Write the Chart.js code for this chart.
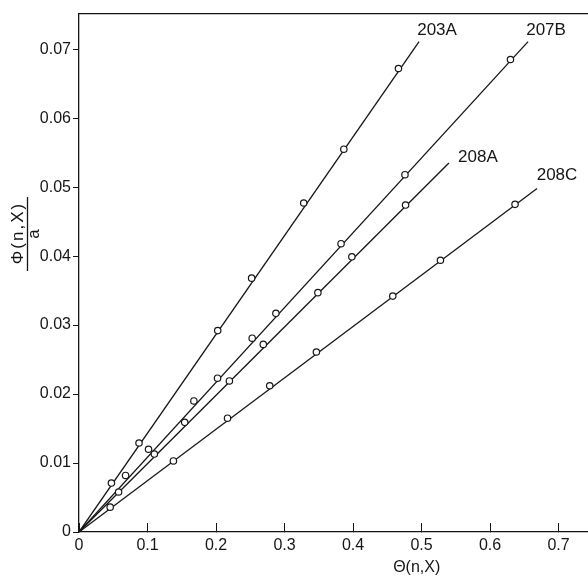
<!DOCTYPE html>
<html><head><meta charset="utf-8">
<script src="https://cdn.jsdelivr.net/npm/chart.js@4.4.1/dist/chart.umd.min.js"></script>
<style>html,body{margin:0;padding:0;background:#fff;overflow:hidden}#wrap{width:588px;height:578px;position:relative}</style>
</head><body><div id="wrap"><canvas id="c" width="588" height="578"></canvas></div>
<script>
// ---- data ----
const seriesNames = ['203A', '207B', '208A', '208C'];
const x203A = [0.0473, 0.0876, 0.2025, 0.2520, 0.3280, 0.3866, 0.4663];
const y203A = [0.0071, 0.0129, 0.0292, 0.0368, 0.0477, 0.0555, 0.0672];
const x207B = [0.0680, 0.1015, 0.1677, 0.2022, 0.2528, 0.2874, 0.3825, 0.4758, 0.6298];
const y207B = [0.0082, 0.0120, 0.0190, 0.0223, 0.0281, 0.0317, 0.0418, 0.0518, 0.0685];
const x208A = [0.0578, 0.1100, 0.1543, 0.2195, 0.2690, 0.3487, 0.3983, 0.4767];
const y208A = [0.0058, 0.0113, 0.0159, 0.0219, 0.0272, 0.0347, 0.0399, 0.0474];
const x208C = [0.0455, 0.1378, 0.2168, 0.2784, 0.3465, 0.4580, 0.5276, 0.6365];
const y208C = [0.0036, 0.0103, 0.0165, 0.0212, 0.0261, 0.0342, 0.0394, 0.0475];
// fitted straight lines: from the origin to these end points
const lineEndX = [0.4964, 0.6555, 0.5400, 0.6686];
const lineEndY = [0.0711, 0.0711, 0.0535, 0.0498];
const xTickValues = [0, 0.1, 0.2, 0.3, 0.4, 0.5, 0.6, 0.7];
const xTickLabels = ['0', '0.1', '0.2', '0.3', '0.4', '0.5', '0.6', '0.7'];
const yTickValues = [0, 0.01, 0.02, 0.03, 0.04, 0.05, 0.06, 0.07];
const yTickLabels = ['0', '0.01', '0.02', '0.03', '0.04', '0.05', '0.06', '0.07'];
const xTitle = 'Θ(n,X)';
const yTitleNum = 'Φ(n,X)';
const yTitleDen = 'a';

// ---- styling ----
const INK = '#151515';
const FONT = '"Liberation Sans", Arial, sans-serif';
const labelOffsets = [[18, -11], [18, -11], [29, -6], [20, -13]];

const xs = [x203A, x207B, x208A, x208C];
const ys = [y203A, y207B, y208A, y208C];

const datasets = [];
seriesNames.forEach((name, i) => {
  datasets.push({
    label: name + ' fit',
    data: [{x: 0, y: 0}, {x: lineEndX[i], y: lineEndY[i]}],
    showLine: true, borderColor: INK, borderWidth: 1.3,
    pointRadius: 0, order: 2
  });
  datasets.push({
    label: name,
    data: xs[i].map((v, j) => ({x: v, y: ys[i][j]})),
    showLine: false, pointRadius: 3.2, pointBorderWidth: 1.2,
    pointBorderColor: INK, pointBackgroundColor: '#fff', order: 1
  });
});

const annot = {
  id: 'annot',
  afterDatasetsDraw(chart) {
    const ctx = chart.ctx, xS = chart.scales.x, yS = chart.scales.y;
    ctx.save();
    ctx.fillStyle = INK;
    ctx.font = '17px ' + FONT;
    ctx.textAlign = 'center';
    ctx.textBaseline = 'middle';
    seriesNames.forEach((n, i) => {
      const px = xS.getPixelForValue(lineEndX[i]) + labelOffsets[i][0];
      const py = yS.getPixelForValue(lineEndY[i]) + labelOffsets[i][1];
      ctx.fillText(n, px, py);
    });
    // x title
    ctx.font = '16px ' + FONT;
    ctx.fillText(xTitle, xS.getPixelForValue(0.493), chart.height - 10);
    // y title (fraction, rotated)
    const cy = yS.getPixelForValue(0.0432);
    ctx.translate(27, cy);
    ctx.rotate(-Math.PI / 2);
    ctx.font = '17px ' + FONT;
    try { ctx.letterSpacing = '2px'; } catch (e) {}
    ctx.fillText(yTitleNum, 1, -9);
    try { ctx.letterSpacing = '0px'; } catch (e) {}
    ctx.fillText(yTitleDen, 0, 7);
    ctx.strokeStyle = INK;
    ctx.lineWidth = 1.3;
    ctx.beginPath();
    ctx.moveTo(-37, 0.5); ctx.lineTo(37, 0.5);
    ctx.stroke();
    ctx.restore();
  }
};

new Chart(document.getElementById('c'), {
  type: 'scatter',
  data: {datasets},
  plugins: [annot],
  options: {
    responsive: false, animation: false,
    layout: {padding: 0, autoPadding: false},
    plugins: {legend: {display: false}, tooltip: {enabled: false}},
    scales: {
      x: {
        type: 'linear', position: 'bottom', min: 0, max: 0.743,
        afterBuildTicks: s => { s.ticks = xTickValues.map(v => ({value: v})); },
        afterFit: s => { s.height = 46; },
        ticks: {
          callback: (v, i) => xTickLabels[i], padding: 13, maxRotation: 0,
          color: INK, font: {family: FONT, size: 16}
        },
        grid: {drawOnChartArea: false, tickLength: -9, color: INK, lineWidth: 1},
        border: {display: true, color: INK, width: 1.3}
      },
      x2: {
        type: 'linear', position: 'top', min: 0, max: 0.743,
        afterFit: s => { s.height = 14; },
        ticks: {display: false},
        grid: {display: false},
        border: {display: true, color: INK, width: 1.3}
      },
      y: {
        type: 'linear', position: 'left', min: 0, max: 0.0751,
        afterBuildTicks: s => { s.ticks = yTickValues.map(v => ({value: v})); },
        afterFit: s => { s.width = 79; },
        ticks: {
          callback: (v, i) => yTickLabels[i], padding: 2,
          color: INK, font: {family: FONT, size: 16}
        },
        grid: {drawOnChartArea: false, tickLength: 6, color: INK, lineWidth: 1},
        border: {display: true, color: INK, width: 1.3}
      }
    }
  }
});
</script>
</body></html>
